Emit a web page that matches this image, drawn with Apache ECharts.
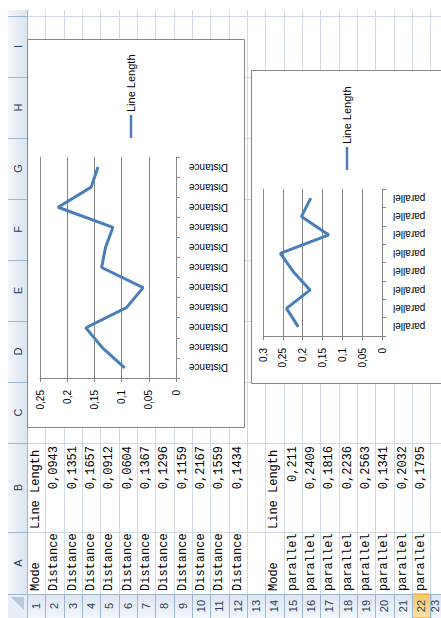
<!DOCTYPE html>
<html>
<head>
<meta charset="utf-8">
<script src="https://cdn.jsdelivr.net/npm/echarts@6/dist/echarts.min.js"></script>
<style>
  html, body { margin: 0; padding: 0; background: #fff; }
  #sheet { width: 441px; height: 618px; }
</style>
</head>
<body>
<div id="sheet"></div>
<script>
// Worksheet contents (Mode / Line Length)
const distanceModes = ['Distance', 'Distance', 'Distance', 'Distance', 'Distance', 'Distance',
                       'Distance', 'Distance', 'Distance', 'Distance', 'Distance'];
const distanceLengths = [0.0943, 0.1351, 0.1657, 0.0912, 0.0604, 0.1367, 0.1296, 0.1159, 0.2167, 0.1559, 0.1434];
const parallelModes = ['parallel', 'parallel', 'parallel', 'parallel', 'parallel', 'parallel', 'parallel', 'parallel'];
const parallelLengths = [0.211, 0.2409, 0.1816, 0.2236, 0.2563, 0.1341, 0.2032, 0.1795];
const headerMode = 'Mode';
const headerLength = 'Line Length';
const seriesName = 'Line Length';
const columnLetters = ['I', 'H', 'G', 'F', 'E', 'D', 'C', 'B', 'A'];
const rowNumbers = ['1','2','3','4','5','6','7','8','9','10','11','12','13','14','15','16','17','18','19','20','21','22','23'];

// ---- layout of the (rotated) worksheet ----
const ROW_X0 = 27, ROW_W = 18.33;
const colEdges = [16, 77, 138, 199, 260, 321, 382, 443, 532, 594]; // I..A boundaries
const HDR_Y = 594;          // top of the row-number band
const CELL_TOP = 10;
const VIEW_W = 441;
const GRID = '#d0d7e5', HDR_BORDER = '#9eb6ce', HDR_TEXT = '#2b3f5c';
const CELL_FONT = '12px "Liberation Mono", "DejaVu Sans Mono", monospace';
const HDR_FONT = '11px "Liberation Sans", Arial, sans-serif';
const CHART_FONT = '"Liberation Sans", Arial, sans-serif';
const LINE_BLUE = '#4a7ebb';
const AXIS_GRAY = '#868686';

const fmt = v => String(v).replace('.', ',');
const rowCenter = r => ROW_X0 + ROW_W * (r - 0.5);

const g = [];
function rotText(x, y, text, align, font, fill, z) {
  g.push({
    type: 'text', x: x, y: y, rotation: Math.PI / 2, z: z, silent: true,
    style: { text: text, x: 0, y: 0, font: font, fill: fill,
             align: align, textAlign: align, verticalAlign: 'middle', textVerticalAlign: 'middle' }
  });
}
function line(x1, y1, x2, y2, stroke, z, w) {
  g.push({ type: 'line', z: z, silent: true, shape: { x1: x1, y1: y1, x2: x2, y2: y2 },
           style: { stroke: stroke, lineWidth: w || 1 } });
}
function rect(x, y, w, h, fill, stroke, z) {
  g.push({ type: 'rect', z: z, silent: true, shape: { x: x, y: y, width: w, height: h },
           style: { fill: fill, stroke: stroke || null, lineWidth: 1 } });
}

// cell gridlines
for (let r = 0; r <= rowNumbers.length; r++) {
  const x = Math.round(ROW_X0 + ROW_W * r) + 0.5;
  line(x, CELL_TOP, x, HDR_Y, GRID, -6);
}
colEdges.forEach(y => line(ROW_X0, y + 0.5, VIEW_W, y + 0.5, GRID, -6));

// column header strip (left side)
rect(8, CELL_TOP, 19, HDR_Y - CELL_TOP, {
  type: 'linear', x: 0, y: 0, x2: 1, y2: 0,
  colorStops: [{ offset: 0, color: '#f3f6fb' }, { offset: 1, color: '#dce5f1' }]
}, null, -5);
line(27.5, CELL_TOP, 27.5, HDR_Y, HDR_BORDER, -4);
colEdges.forEach(y => line(8, y + 0.5, 27, y + 0.5, HDR_BORDER, -4));
columnLetters.forEach((c, i) => {
  rotText(18, (colEdges[i] + colEdges[i + 1]) / 2, c, 'center', HDR_FONT, HDR_TEXT, -3);
});

// row number band (bottom)
rect(ROW_X0, HDR_Y, VIEW_W - ROW_X0, 618 - HDR_Y, {
  type: 'linear', x: 0, y: 1, x2: 0, y2: 0,
  colorStops: [{ offset: 0, color: '#f3f6fb' }, { offset: 1, color: '#dce5f1' }]
}, null, -5);
line(ROW_X0, HDR_Y + 0.5, VIEW_W, HDR_Y + 0.5, HDR_BORDER, -4);
rowNumbers.forEach((n, i) => {
  const x0 = Math.round(ROW_X0 + ROW_W * i) + 0.5;
  if (n === '22') {
    rect(x0, HDR_Y, ROW_W, 618 - HDR_Y, {
      type: 'linear', x: 0, y: 1, x2: 0, y2: 0,
      colorStops: [{ offset: 0, color: '#fbe1a6' }, { offset: 1, color: '#f6c868' }]
    }, '#f29536', -4);
  }
  line(x0, HDR_Y, x0, 618, HDR_BORDER, -4);
  // the last, partly visible row keeps its number inside the window
  const cx = Math.min(rowCenter(i + 1), VIEW_W - 6.5);
  rotText(cx, (HDR_Y + 618) / 2, n, 'center', HDR_FONT, HDR_TEXT, -3);
});

// corner (select-all) cell
rect(8, HDR_Y, 19, 618 - HDR_Y, '#e8eef7', null, -5);
g.push({ type: 'polygon', z: -4, silent: true,
         shape: { points: [[11, HDR_Y + 3], [24, HDR_Y + 3], [24, HDR_Y + 16]] },
         style: { fill: '#b7c7dd' } });
line(8, HDR_Y + 0.5, 27, HDR_Y + 0.5, HDR_BORDER, -4);
line(27.5, HDR_Y, 27.5, 618, HDR_BORDER, -4);

// cell texts: column A (Mode) and column B (Line Length)
const colA = [colEdges[8], colEdges[9]], colB = [colEdges[7], colEdges[8]];
function writeBlock(firstRow, modes, lengths) {
  rotText(rowCenter(firstRow), colA[1] - 3, headerMode, 'left', CELL_FONT, '#000', -2);
  rotText(rowCenter(firstRow), colB[1] - 3, headerLength, 'left', CELL_FONT, '#000', -2);
  modes.forEach((m, i) => rotText(rowCenter(firstRow + 1 + i), colA[1] - 3, m, 'left', CELL_FONT, '#000', -2));
  lengths.forEach((v, i) => rotText(rowCenter(firstRow + 1 + i), colB[0] + 3, fmt(v), 'right', CELL_FONT, '#000', -2));
}
writeBlock(1, distanceModes, distanceLengths);
writeBlock(14, parallelModes, parallelLengths);

// chart areas
rect(27.5, 39.5, 217, 388, '#fff', AXIS_GRAY, -1);
rect(251.5, 70.5, 200, 313, '#fff', AXIS_GRAY, -1);

// legends
function legend(x, y) {
  line(x, y, x, y - 23, LINE_BLUE, 5, 2.5);
  rotText(x, y - 26, seriesName, 'left', '11px ' + CHART_FONT, '#000', 5);
}
legend(131, 138);
legend(347, 170);

function valueAxis(gridIndex, max) {
  return {
    gridIndex: gridIndex, type: 'value', inverse: true, min: 0, max: max, interval: 0.05,
    axisLine: { show: true, lineStyle: { color: AXIS_GRAY } },
    axisTick: { show: true, length: 4, lineStyle: { color: AXIS_GRAY } },
    splitLine: { show: true, lineStyle: { color: AXIS_GRAY } },
    axisLabel: { rotate: 90, margin: 12, fontSize: 10, color: '#000', fontFamily: CHART_FONT,
                 formatter: v => fmt(+v.toFixed(2)) }
  };
}
function categoryAxis(gridIndex, cats, margin) {
  return {
    gridIndex: gridIndex, type: 'category', position: 'right', data: cats, boundaryGap: true,
    axisLine: { show: true, lineStyle: { color: AXIS_GRAY } },
    axisTick: { show: true, length: 4, lineStyle: { color: AXIS_GRAY } },
    splitLine: { show: false },
    axisLabel: { rotate: 180, align: 'right', margin: margin, fontSize: 10, color: '#000',
                 fontFamily: CHART_FONT, interval: 0 }
  };
}

const chart = echarts.init(document.getElementById('sheet'), null, { renderer: 'svg' });
chart.setOption({
  animation: false,
  backgroundColor: '#fff',
  grid: [
    { left: 40, top: 157, width: 136, height: 221 },
    { left: 263, top: 189, width: 119, height: 147 }
  ],
  xAxis: [valueAxis(0, 0.25), valueAxis(1, 0.3)],
  yAxis: [categoryAxis(0, distanceModes, 13), categoryAxis(1, parallelModes, 11)],
  series: [
    { name: seriesName, type: 'line', xAxisIndex: 0, yAxisIndex: 0, symbol: 'none',
      encode: { x: 0, y: 1 },
      data: distanceLengths.map((v, i) => [v, i]),
      lineStyle: { color: LINE_BLUE, width: 3 }, itemStyle: { color: LINE_BLUE } },
    { name: seriesName, type: 'line', xAxisIndex: 1, yAxisIndex: 1, symbol: 'none',
      encode: { x: 0, y: 1 },
      data: parallelLengths.map((v, i) => [v, i]),
      lineStyle: { color: LINE_BLUE, width: 3 }, itemStyle: { color: LINE_BLUE } }
  ],
  graphic: { elements: g }
});
</script>
</body>
</html>
